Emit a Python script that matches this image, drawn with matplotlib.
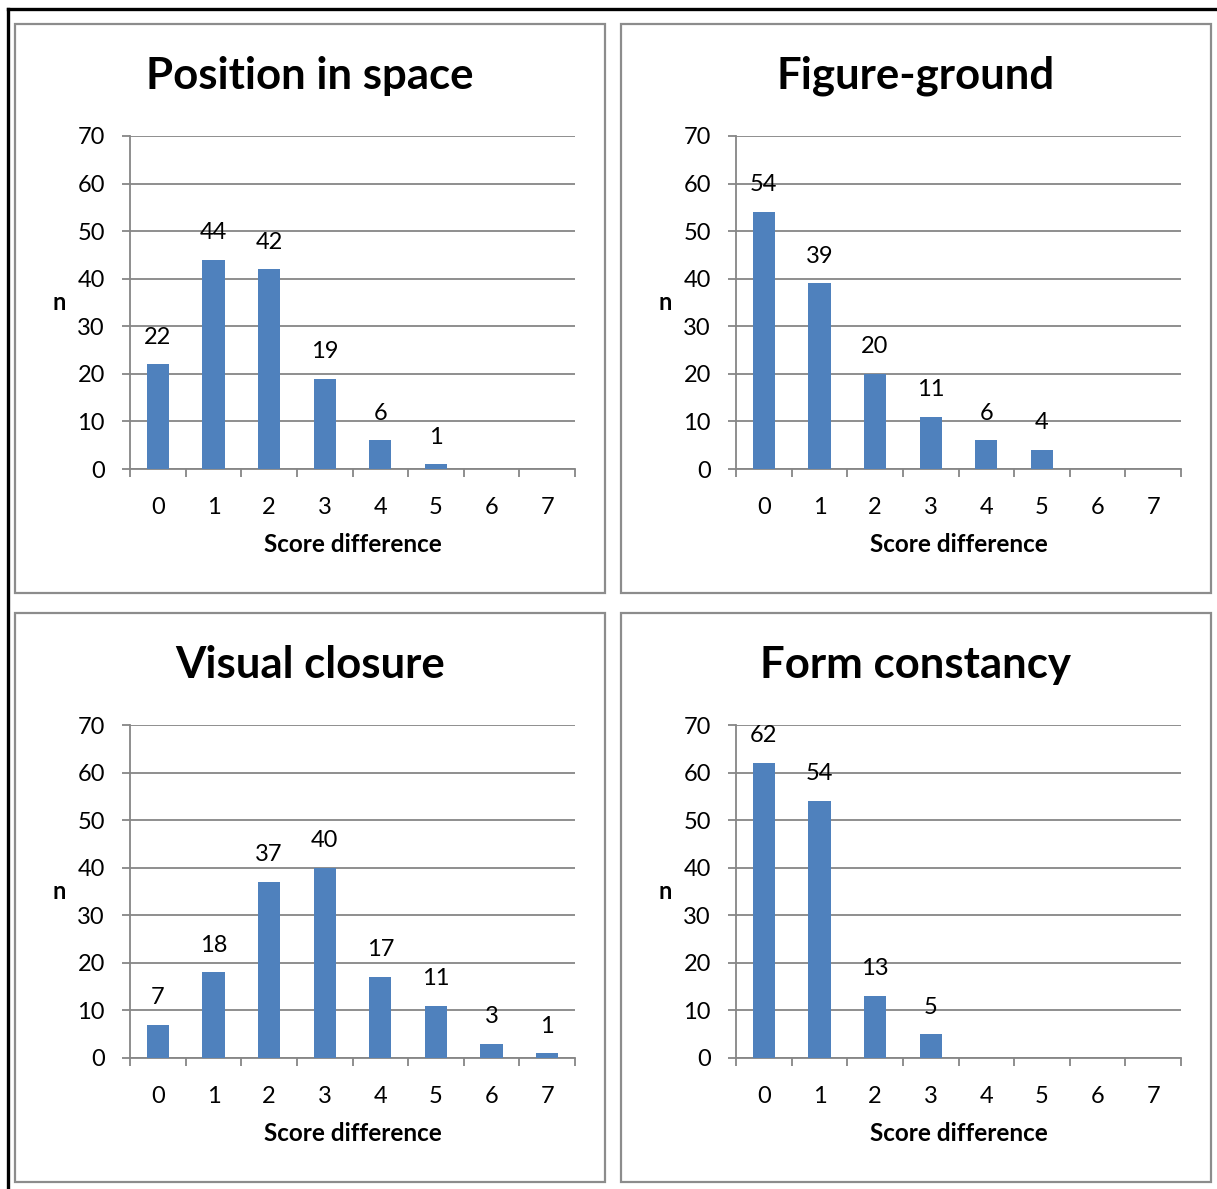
import matplotlib
matplotlib.use("Agg")
import matplotlib.pyplot as plt
from matplotlib.patches import Rectangle
from matplotlib.lines import Line2D

plt.rcParams['font.family'] = ['Lato', 'DejaVu Sans']

# Data
titles = ["Position in space", "Figure-ground", "Visual closure", "Form constancy"]
score_diff = [0, 1, 2, 3, 4, 5, 6, 7]
position_in_space = [22, 44, 42, 19, 6, 1, 0, 0]
figure_ground = [54, 39, 20, 11, 6, 4, 0, 0]
visual_closure = [7, 18, 37, 40, 17, 11, 3, 1]
form_constancy = [62, 54, 13, 5, 0, 0, 0, 0]
series = [position_in_space, figure_ground, visual_closure, form_constancy]
y_ticks = [0, 10, 20, 30, 40, 50, 60, 70]

W, H = 1217, 1189
fig = plt.figure(figsize=(W / 100, H / 100), dpi=100)

BAR = "#4F81BD"
GRID = "#868686"
FRAME = "#8C8C8C"


def fx(x):
    return x / W


def fy(y):
    return 1 - y / H


# outer black frame (top and left edges visible)
fig.add_artist(Line2D([fx(8), fx(8)], [fy(9), fy(H + 10)], color="black", lw=2.4))
fig.add_artist(Line2D([fx(8), fx(W + 10)], [fy(9), fy(9)], color="black", lw=2.4))

# panel origins (left, top) in pixels
panels = [(15, 24), (621, 24), (15, 613), (621, 613)]
pw, ph = 590, 569

for (px, py), title, vals in zip(panels, titles, series):
    fig.add_artist(Rectangle((fx(px), fy(py + ph)), pw / W, ph / H,
                             fill=False, edgecolor=FRAME, lw=1.6))
    ax_l, ax_r = px + 115, px + 560
    ax_t, ax_b = py + 112, py + 445
    ax = fig.add_axes([fx(ax_l), fy(ax_b), (ax_r - ax_l) / W, (ax_b - ax_t) / H])
    ax.bar(score_diff, vals, width=0.4, color=BAR, zorder=3)
    for x, v in zip(score_diff, vals):
        if v > 0:
            ax.annotate(str(v), (x, v), xytext=(0, 12), textcoords="offset points",
                        ha="center", va="bottom", fontsize=17, color="black")
    ax.set_xlim(-0.5, 7.5)
    ax.set_ylim(0, 70)
    ax.set_yticks(y_ticks)
    ax.set_xticks(score_diff)
    ax.set_xticks([i - 0.5 for i in range(9)], minor=True)
    ax.yaxis.grid(True, color=GRID, lw=1.3, zorder=0)
    ax.set_axisbelow(True)
    for s in ("top", "right"):
        ax.spines[s].set_visible(False)
    for s in ("left", "bottom"):
        ax.spines[s].set_color(GRID)
        ax.spines[s].set_linewidth(1.3)
    ax.tick_params(axis="y", length=6, width=1.3, color=GRID, labelsize=17, pad=12)
    ax.tick_params(axis="x", which="major", length=0, labelsize=17, pad=20)
    ax.tick_params(axis="x", which="minor", length=5.5, width=1.3, color=GRID)
    ax.set_xlabel("Score difference", fontsize=17.5, fontweight="bold", labelpad=11)
    ax.set_ylabel("n", fontsize=17, fontweight="bold", rotation=0, labelpad=13, va="center")
    fig.text(fx(px + pw / 2), fy(py + 52), title, ha="center", va="center",
             fontsize=31.5, fontweight="bold")

fig.savefig("out.png", dpi=100)
